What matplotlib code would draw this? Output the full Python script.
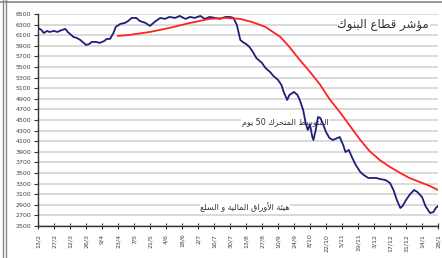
import matplotlib

matplotlib.use("Agg")
import matplotlib.pyplot as plt
from matplotlib.lines import Line2D

# biweekly date labels, 13/2/2008 .. 28/1/2009 (days from 13/2)
tick_labels = ["13/2", "27/2", "12/3", "26/3", "9/4", "23/4", "7/5", "21/5",
               "4/6", "18/6", "2/7", "16/7", "30/7", "13/8", "27/8", "10/9",
               "24/9", "8/10", "22/10", "5/11", "19/11", "3/12", "17/12",
               "31/12", "14/1", "28/1"]
tick_days = [14 * i for i in range(len(tick_labels))]

# bank sector index (blue)
index_day = [0, 3, 5, 8, 10, 14, 17, 21, 24, 26, 29, 31, 34, 37, 39, 42, 45,
             47, 51, 54, 58, 60, 63, 66, 68, 72, 76, 79, 82, 86, 89, 94, 98,
             102, 107, 111, 115, 120, 124, 129, 133, 137, 142, 146, 150, 155,
             159, 164, 168, 171, 174, 177, 179, 182, 185, 188, 191, 193, 196,
             199, 203, 206, 210, 213, 215, 218, 220, 224, 227, 229, 232, 234,
             236, 238, 240, 241, 243, 245, 247, 249, 252, 255, 258, 262, 264,
             267, 269, 272, 275, 278, 282, 285, 289, 292, 296, 299, 304, 308,
             311, 314, 317, 319, 322, 325, 329, 332, 336, 339, 343, 346, 348,
             350]
index_val = [6236, 6198, 6141, 6179, 6160, 6179, 6160, 6198, 6217, 6160,
             6104, 6066, 6047, 6009, 5972, 5915, 5934, 5972, 5972, 5953, 5990,
             6028, 6028, 6141, 6255, 6311, 6330, 6368, 6425, 6425, 6368, 6330,
             6274, 6349, 6425, 6406, 6443, 6425, 6462, 6406, 6443, 6425, 6462,
             6406, 6443, 6425, 6406, 6443, 6443, 6425, 6292, 6009, 5972, 5934,
             5877, 5783, 5670, 5632, 5575, 5481, 5406, 5330, 5255, 5160, 5028,
             4877, 4972, 5028, 4972, 4877, 4689, 4462, 4311, 4406, 4179, 4122,
             4311, 4556, 4538, 4443, 4273, 4160, 4122, 4160, 4179, 4028, 3896,
             3934, 3783, 3651, 3519, 3462, 3406, 3406, 3406, 3387, 3368, 3311,
             3179, 2990, 2839, 2877, 2990, 3085, 3179, 3141, 3047, 2877, 2745,
             2764, 2839, 2877]

# 50-day moving average (red)
ma_day = [70, 80, 98, 115, 133, 150, 164, 177, 187, 199, 212, 220, 229, 238,
          247, 255, 264, 273, 282, 290, 299, 308, 317, 325, 334, 343, 350]
ma_val = [6085, 6104, 6160, 6236, 6330, 6406, 6425, 6406, 6349, 6255, 6066,
          5877, 5632, 5406, 5160, 4896, 4651, 4387, 4122, 3915, 3745, 3613,
          3500, 3406, 3330, 3254, 3179]

y_ticks = list(range(2500, 6501, 200))

title_txt = "مؤشر قطاع البنوك"
ma_txt = "المتوسط المتحرك 50 يوم"
source_txt = "هيئة الأوراق المالية و السلع"

# --- minimal Arabic shaping (presentation forms) so the text renders joined ---
FORMS = {
    "ا": ("ﺍ", "ﺎ", None, None),
    "أ": ("ﺃ", "ﺄ", None, None),
    "ؤ": ("ﺅ", "ﺆ", None, None),
    "ئ": ("ﺉ", "ﺊ", "ﺋ", "ﺌ"),
    "ب": ("ﺏ", "ﺐ", "ﺑ", "ﺒ"),
    "ة": ("ﺓ", "ﺔ", None, None),
    "ت": ("ﺕ", "ﺖ", "ﺗ", "ﺘ"),
    "ح": ("ﺡ", "ﺢ", "ﺣ", "ﺤ"),
    "ر": ("ﺭ", "ﺮ", None, None),
    "س": ("ﺱ", "ﺲ", "ﺳ", "ﺴ"),
    "ش": ("ﺵ", "ﺶ", "ﺷ", "ﺸ"),
    "ط": ("ﻁ", "ﻂ", "ﻃ", "ﻄ"),
    "ع": ("ﻉ", "ﻊ", "ﻋ", "ﻌ"),
    "ق": ("ﻕ", "ﻖ", "ﻗ", "ﻘ"),
    "ك": ("ﻙ", "ﻚ", "ﻛ", "ﻜ"),
    "ل": ("ﻝ", "ﻞ", "ﻟ", "ﻠ"),
    "م": ("ﻡ", "ﻢ", "ﻣ", "ﻤ"),
    "ن": ("ﻥ", "ﻦ", "ﻧ", "ﻨ"),
    "ه": ("ﻩ", "ﻪ", "ﻫ", "ﻬ"),
    "و": ("ﻭ", "ﻮ", None, None),
    "ي": ("ﻱ", "ﻲ", "ﻳ", "ﻴ"),
}
LAM_ALEF = {"ا": ("ﻻ", "ﻼ"), "أ": ("ﻷ", "ﻸ")}


def _joins_next(ch):
    return ch in FORMS and FORMS[ch][2] is not None


def shape_word(word):
    out = []
    i = 0
    while i < len(word):
        ch = word[i]
        prev = i > 0 and _joins_next(word[i - 1])
        if ch == "ل" and i + 1 < len(word) and word[i + 1] in LAM_ALEF:
            out.append(LAM_ALEF[word[i + 1]][1 if prev else 0])
            i += 2
            continue
        if ch not in FORMS:
            out.append(ch)
            i += 1
            continue
        nxt = _joins_next(ch) and i + 1 < len(word) and word[i + 1] in FORMS
        iso, fin, ini, med = FORMS[ch]
        out.append(med if prev and nxt else ini if nxt else fin if prev else iso)
        i += 1
    return "".join(reversed(out))


def arabic(text):
    words = []
    for w in reversed(text.split(" ")):
        words.append(shape_word(w) if any(c in FORMS for c in w) else w)
    return " ".join(words)


fig = plt.figure(figsize=(4.42, 2.58), dpi=100)
ax = fig.add_axes((0.086, 0.124, 0.905, 0.822))

ax.plot(index_day, index_val, color="#1f1f7a", lw=1.3, zorder=3)
ax.plot(ma_day, ma_val, color="#ff2222", lw=1.3, zorder=3)

ax.set_xlim(0, 350)
ax.set_ylim(2500, 6500)
ax.set_yticks(y_ticks)
ax.set_yticklabels([str(v) for v in y_ticks], fontsize=4.5, color="#444444")
ax.set_xticks(tick_days)
ax.set_xticklabels(tick_labels, rotation=90, fontsize=4.5, color="#444444")
ax.yaxis.grid(True, color="#cfcfcf", lw=1.1)
ax.set_axisbelow(True)
for side in ("top", "right"):
    ax.spines[side].set_visible(False)
for side in ("left", "bottom"):
    ax.spines[side].set_color("#333333")
    ax.spines[side].set_linewidth(1.0)
ax.tick_params(axis="y", length=3, width=0.8, pad=2, color="#333333")
ax.tick_params(axis="x", direction="inout", length=5, width=0.8, pad=3,
               color="#333333")

fam = ["DejaVu Sans"]
ax.text(302, 6310, arabic(title_txt), fontsize=8.5, color="#333333",
        ha="center", va="center", family=fam, zorder=2,
        bbox=dict(facecolor="white", edgecolor="none", pad=0.5))
ax.text(216, 4450, arabic(ma_txt), fontsize=5.8, color="#333333",
        ha="center", va="center", family=fam, zorder=2,
        bbox=dict(facecolor="white", edgecolor="none", pad=0.3))
ax.text(181, 2860, arabic(source_txt), fontsize=5.8, color="#333333",
        ha="center", va="center", family=fam, zorder=2,
        bbox=dict(facecolor="white", edgecolor="none", pad=0.3))

# outer frame of the clipping
for x in (2.5 / 442, 5.5 / 442):
    fig.add_artist(Line2D([x, x], [0, 1], color="#888888", lw=1.0))
fig.add_artist(Line2D([0, 1], [1 - 1.5 / 258, 1 - 1.5 / 258],
                      color="#888888", lw=1.2))

fig.savefig("out.png", dpi=100)
